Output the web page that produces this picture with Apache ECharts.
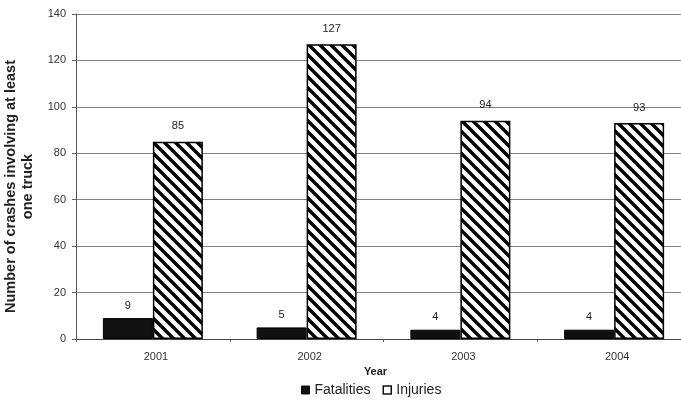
<!DOCTYPE html>
<html><head><meta charset="utf-8">
<script src="https://cdn.jsdelivr.net/npm/echarts@6/dist/echarts.min.js"></script>
<style>html,body{margin:0;padding:0;background:#fff}#c{width:681px;height:404px}</style>
</head><body><div id="c"></div>
<script>
const years = ['2001', '2002', '2003', '2004'];
const fatalities = [9, 5, 4, 4];
const injuries = [85, 127, 94, 93];
const yTicks = [0, 20, 40, 60, 80, 100, 120, 140];

function hatch() {
  const s = 11;
  const c = document.createElement('canvas');
  c.width = s; c.height = s;
  const g = c.getContext('2d');
  g.fillStyle = '#fff'; g.fillRect(0, 0, s, s);
  g.strokeStyle = '#000'; g.lineWidth = 3.4;
  for (let k = -1; k <= 1; k++) {
    g.beginPath();
    g.moveTo(k * s - 1, -1);
    g.lineTo(k * s + s + 1, s + 1);
    g.stroke();
  }
  return c;
}

const chart = echarts.init(document.getElementById('c'), null, {renderer: 'canvas'});
const font = 'Liberation Sans, Arial, sans-serif';
chart.setOption({
  animation: false,
  backgroundColor: '#fff',
  grid: {left: 76, right: -10, top: 14, bottom: 65, containLabel: false, outerBoundsMode: 'none'},
  xAxis: {
    type: 'category', data: years,
    name: 'Year', nameLocation: 'middle', nameGap: 27,
    nameTextStyle: {fontFamily: font, fontSize: 11, fontWeight: 'bold', color: '#222', padding: [0, 16, 0, 0]},
    axisLine: {lineStyle: {color: '#444', width: 1}},
    axisTick: {show: true, length: 3, lineStyle: {color: '#666'}},
    axisLabel: {fontFamily: font, fontSize: 11, color: '#333', margin: 12, padding: [0, 0, 0, 6]}
  },
  yAxis: {
    type: 'value', min: yTicks[0], max: yTicks[yTicks.length - 1], interval: 20,
    name: 'Number of crashes involving at least\none truck',
    nameLocation: 'middle', nameGap: 31, nameRotate: 90,
    nameTextStyle: {fontFamily: font, fontSize: 14.5, fontWeight: 'bold', color: '#222', lineHeight: 17, padding: [0, 20, 0, 0]},
    axisLine: {show: true, lineStyle: {color: '#555', width: 1}},
    axisTick: {show: true, length: 4, lineStyle: {color: '#666'}},
    axisLabel: {fontFamily: font, fontSize: 11, color: '#333', margin: 10},
    splitLine: {lineStyle: {color: '#808080', width: 1}}
  },
  legend: {
    bottom: 2, left: 296, itemWidth: 8, itemHeight: 8, itemGap: 12,
    textStyle: {fontFamily: font, fontSize: 14, color: '#222'},
    data: [
      {name: 'Fatalities', icon: 'rect', itemStyle: {color: '#111', borderColor: '#111', borderWidth: 1}},
      {name: 'Injuries', icon: 'rect', itemStyle: {color: '#fff', borderColor: '#111', borderWidth: 1.5}}
    ]
  },
  series: [
    {
      name: 'Fatalities', type: 'bar', data: fatalities, barWidth: 50, barGap: '0%',
      itemStyle: {color: '#111', borderColor: '#000', borderWidth: 1},
      label: {show: true, position: 'top', distance: 7, fontFamily: font, fontSize: 11, color: '#222'}
    },
    {
      name: 'Injuries', type: 'bar', data: injuries, barWidth: 50,
      itemStyle: {color: {image: hatch(), repeat: 'repeat'}, borderColor: '#000', borderWidth: 1.5},
      label: {show: true, position: 'top', distance: 10, fontFamily: font, fontSize: 11, color: '#222'}
    }
  ]
});
</script></body></html>
